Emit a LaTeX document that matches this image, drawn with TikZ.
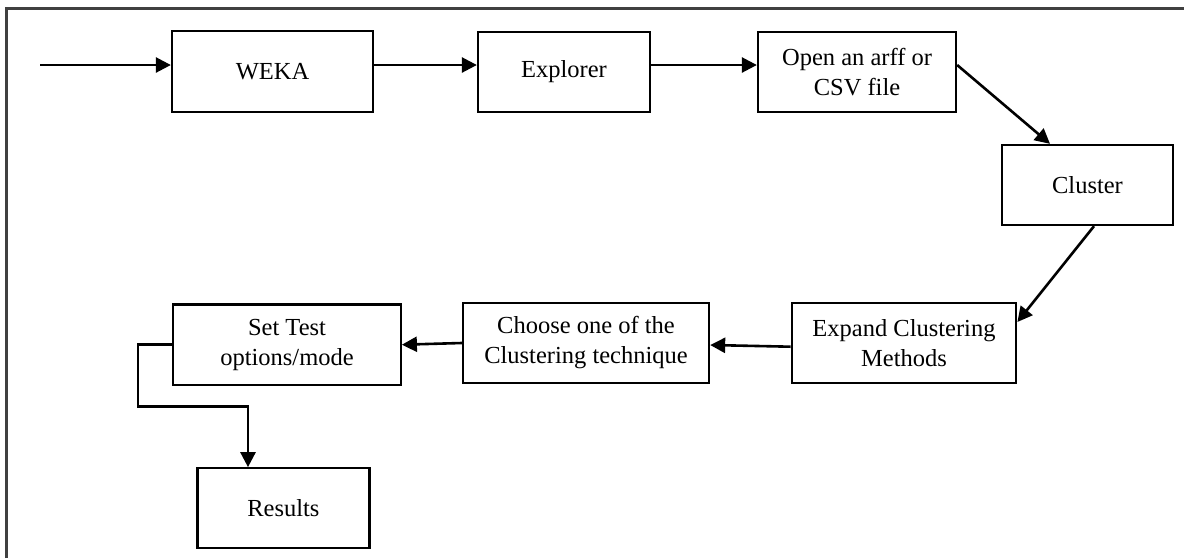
\documentclass[tikz,border=0pt]{standalone}
\usepackage{fontspec}
\setmainfont{Liberation Serif}
\usetikzlibrary{arrows.meta}
\begin{document}
\begin{tikzpicture}[x=1pt,y=-1pt,
  box/.style={draw=black, line width=2.3pt, rectangle, inner sep=0pt, align=center,
    font=\fontsize{24.5}{30}\selectfont},
  arr/.style={draw=black, line width=2.6pt, -{Triangle[length=15pt,width=15pt]}},
  framecol/.style={draw=black!75, line width=2.2pt}]
\useasboundingbox (0,0) rectangle (1184,558);
\draw[framecol] (6.5,558) -- (6.5,8.5) -- (1184,8.5);

\node[box, minimum width=201pt, minimum height=81pt] (weka) at (272.5,71.5) {WEKA};
\node[box, minimum width=172pt, minimum height=80pt] (explorer) at (564,72) {Explorer};
\node[box, minimum width=198pt, minimum height=80pt] (openf) at (857,72) {Open an arff or\\CSV file};
\node[box, minimum width=171pt, minimum height=80pt] (cluster) at (1087.5,185) {Cluster};
\node[box, minimum width=224.5pt, minimum height=80.5pt] (expand) at (904,343) {Expand Clustering\\Methods};
\node[box, minimum width=246pt, minimum height=80pt] (choose) at (586,343) {Choose one of the\\Clustering technique};
\node[box, minimum width=227.5pt, minimum height=80.5pt] (settest) at (287,344.7) {Set Test\\options/mode};
\node[box, minimum width=172pt, minimum height=80pt] (results) at (283.4,508.3) {Results};

\coordinate (start) at (40,65);
\coordinate (elbow) at (137.8,406.7);
\coordinate (rtop) at ([xshift=-35.4pt]results.north);

\draw[arr] (start) -- (start -| weka.west);
\draw[arr] (weka.east |- start) -- (explorer.west |- start);
\draw[arr] (explorer.east |- start) -- (openf.west |- start);
\draw[arr] ([yshift=7pt]openf.east) -- ([xshift=-37.5pt]cluster.north);
\draw[arr] ([xshift=6.5pt]cluster.south) -- ([yshift=21pt]expand.east);
\draw[arr] ([yshift=-3.7pt]expand.west) -- ([yshift=-2pt]choose.east);
\draw[arr] (choose.west) -- (settest.east);
\draw[arr] (settest.west) -- (settest.west -| elbow) -- (elbow) -- (elbow -| rtop) -- (rtop);
\end{tikzpicture}
\end{document}
